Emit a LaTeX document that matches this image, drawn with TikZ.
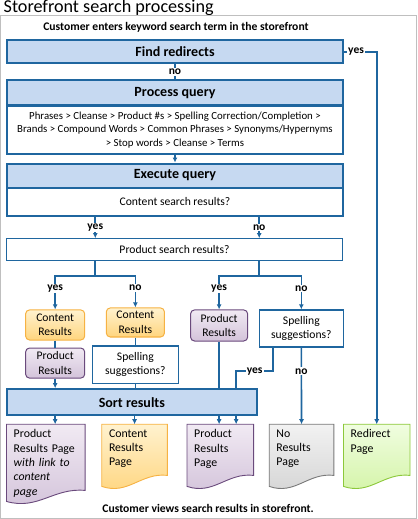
\documentclass[tikz,border=0pt]{standalone}
\usepackage{fontspec}
\setmainfont{Carlito}
\usepackage{tikz}
\usetikzlibrary{
  calc,
  positioning,
  arrows.meta,
  backgrounds
}
\tikzset{>={Latex[length=5pt,width=5pt]}}
\definecolor{flowblue}{HTML}{1F669F}
\definecolor{headfill}{HTML}{C6D9F1}
\definecolor{framegray}{HTML}{BFBFBF}
\definecolor{orangeline}{HTML}{F6B243}
\definecolor{orangetop}{HTML}{FFF2CF}
\definecolor{orangebot}{HTML}{FFD57E}
\definecolor{purpleline}{HTML}{6A4A7C}
\definecolor{purpletop}{HTML}{F1EAF3}
\definecolor{purplebot}{HTML}{D3C3DA}
\definecolor{grayline}{HTML}{7A7A7A}
\definecolor{graytop}{HTML}{F2F2F2}
\definecolor{graybot}{HTML}{D4D4D4}
\definecolor{greenline}{HTML}{8CC83A}
\definecolor{greentop}{HTML}{F0FDE0}
\definecolor{greenbot}{HTML}{D3F4A6}
\newcommand{\fsz}[2]{\fontsize{#1}{#2}\selectfont}
% page outline with wavy bottom: node, colour, height
\newcommand{\pageoutline}[3]{%
  \path[draw=#2line, line width=0.9pt, top color=#2top, bottom color=#2bot]
    (#1.north west) -- ($(#1.north west)+(0,#3)$)
    .. controls ($(#1.north west)!0.4!(#1.north east)+(0,#3+9)$)
    and ($(#1.north west)!0.6!(#1.north east)+(0,#3-14)$)
    .. ($(#1.north east)+(0,#3-11)$) -- (#1.north east) -- cycle;}

\begin{document}
\begin{tikzpicture}[x=1pt, y=-1pt,
    headbox/.style = {rectangle, draw=flowblue, line width=2pt, fill=headfill, minimum width=336pt, inner sep=0pt, font=\bfseries\fsz{14}{16}},
    bodybox/.style = {rectangle, draw=flowblue, line width=2pt, fill=white, minimum width=336pt, inner sep=0pt, align=center, font=\fsz{10.8}{13.2}},
    askbox/.style = {rectangle, draw=flowblue, line width=1.2pt, fill=white, inner sep=0pt, align=center, font=\fsz{11.6}{14.5}},
    orangebox/.style = {rectangle, rounded corners=4pt, draw=orangeline, line width=1pt, top color=orangetop, bottom color=orangebot, inner sep=0pt, align=center, font=\fsz{11.6}{14.5}},
    purplebox/.style = {rectangle, rounded corners=4pt, draw=purpleline, line width=1pt, top color=purpletop, bottom color=purplebot, inner sep=0pt, align=center, font=\fsz{11.6}{14.5}},
    pagebox/.style = {anchor=north west, inner xsep=7pt, inner ysep=5pt, align=left, font=\fsz{11.8}{14.3}},
    note/.style = {inner sep=0pt, font=\bfseries\fsz{11.6}{13}},
    lbl/.style = {fill=white, inner sep=1pt, font=\bfseries\fsz{11.5}{13}},
    flow/.style = {draw=flowblue, line width=1.6pt}]
          % frame and titles
          \node[anchor=base west, inner sep=0pt, font=\fsz{18.1}{20}] (title) at (6,12.5) {Storefront search processing};
          \node[draw=framegray, line width=1pt, minimum width=415pt, minimum height=502pt, inner sep=0pt] (frame) at (210.5,266) {};
          \node[note] (start) at (178,27) {Customer enters keyword search term in the storefront};
          \node[note] (finish) at (210,507) {Customer views search results in storefront.};

          % nodes
          \node[headbox, minimum height=23pt] (findred) at (177,51.5) {Find redirects};
          \node[headbox, minimum height=25pt] (procq) at (177,92.5) {Process query};
          \node[bodybox, minimum height=48pt] (procbody) at (177,129.5) {Phrases > Cleanse > Product \#s > Spelling Correction/Completion >\\Brands > Compound Words > Common Phrases > Synonyms/Hypernyms\\> Stop words > Cleanse > Terms};
          \node[headbox, minimum height=24pt] (execq) at (177,175) {Execute query};
          \node[bodybox, minimum height=28pt, font=\fsz{11.6}{14}] (execbody) at (177,201) {Content search results?};
          \node[askbox, minimum width=335pt, minimum height=22pt] (prodask) at (176.5,249) {Product search results?};

          \node[orangebox, minimum width=59pt, minimum height=30pt] (contentA) at (57.5,324) {Content\\Results};
          \node[purplebox, minimum width=59pt, minimum height=30pt] (productA) at (57.5,362) {Product\\Results};
          \node[orangebox, minimum width=58pt, minimum height=29pt] (contentB) at (137.5,321.5) {Content\\Results};
          \node[askbox, minimum width=86pt, minimum height=37pt] (spellA) at (137.5,363.5) {Spelling\\suggestions?};
          \node[purplebox, minimum width=57pt, minimum height=31pt] (productB) at (221,324.5) {Product\\Results};
          \node[askbox, minimum width=84pt, minimum height=37pt] (spellB) at (303,327.5) {Spelling\\suggestions?};
          \node[headbox, minimum width=250pt, minimum height=26pt] (sort) at (134,401) {Sort results};

          \node[pagebox, text width=64pt] (pageA) at (9,423) {Product\\Results Page\\\textit{with link to}\\\textit{content}\\\textit{page}};
          \node[pagebox, text width=51pt] (pageB) at (104,423) {Content\\Results\\Page};
          \node[pagebox, text width=52pt] (pageC) at (189,423) {Product\\Results\\Page};
          \node[pagebox, text width=50pt] (pageD) at (271,423) {No\\Results\\Page};
          \node[pagebox, text width=52pt] (pageE) at (345,423) {Redirect\\Page};
          \begin{pgfonlayer}{background}
            \pageoutline{pageA}{purple}{77}
            \pageoutline{pageB}{orange}{62}
            \pageoutline{pageC}{purple}{62}
            \pageoutline{pageD}{gray}{62}
            \pageoutline{pageE}{green}{62}
          \end{pgfonlayer}

          \coordinate (forkL) at (97.5,275);
          \coordinate (forkR) at (261,275);
          \coordinate (turn) at (275,370);
          \coordinate (bend) at (238,370);

          % connections
          \draw[flow, ->] (findred.east) -| node[lbl, pos=0.18]{yes} (pageE.north);
          \draw[flow] (findred.south) -- node[lbl]{no} (procq.north);
          \draw[flow, ->] (procbody.south) -- (execq.north);
          \draw[flow, ->] (execbody.south -| forkL) -- node[lbl]{yes} (prodask.north -| forkL);
          \draw[flow, ->] (execbody.south -| forkR) -- node[lbl]{no} (prodask.north -| forkR);
          \draw[flow] (prodask.south -| forkL) -- (forkL);
          \draw[flow] (prodask.south -| forkR) -- (forkR);
          \draw[flow, ->] (forkL) -| node[lbl, pos=0.69]{yes} (contentA.north);
          \draw[flow, ->] (forkL) -| node[lbl, pos=0.69]{no} (contentB.north);
          \draw[flow, ->] (forkR) -| node[lbl, pos=0.69]{yes} (productB.north);
          \draw[flow, ->] (forkR) -| node[lbl, pos=0.69]{no} (spellB.north);
          \draw[flow] (contentA.south) -- (productA.north);
          \draw[flow, ->] (productA.south) -- (sort.north -| productA);
          \draw[flow] (contentB.south) -- (spellA.north);
          \draw[flow] (spellA.south) -- (sort.north -| spellA);
          \draw[flow] (productB.south) -- (sort.north -| productB);
          \draw[flow] (spellB.south -| turn) -- (turn) -- node[lbl]{yes} (bend) -- (sort.north -| bend);
          \draw[flow, ->] (spellB.south) -- node[lbl, pos=0.31]{no} (pageD.north);
          \draw[flow, ->] (sort.south -| productA) -- (pageA.north -| productA);
          \draw[flow, ->] (sort.south -| pageB) -- (pageB.north);
          \draw[flow, ->] (sort.south -| productB) -- (pageC.north -| productB);
          \draw[flow, ->] (sort.south -| bend) -- (pageC.north -| bend);
        \end{tikzpicture}
\end{document}
